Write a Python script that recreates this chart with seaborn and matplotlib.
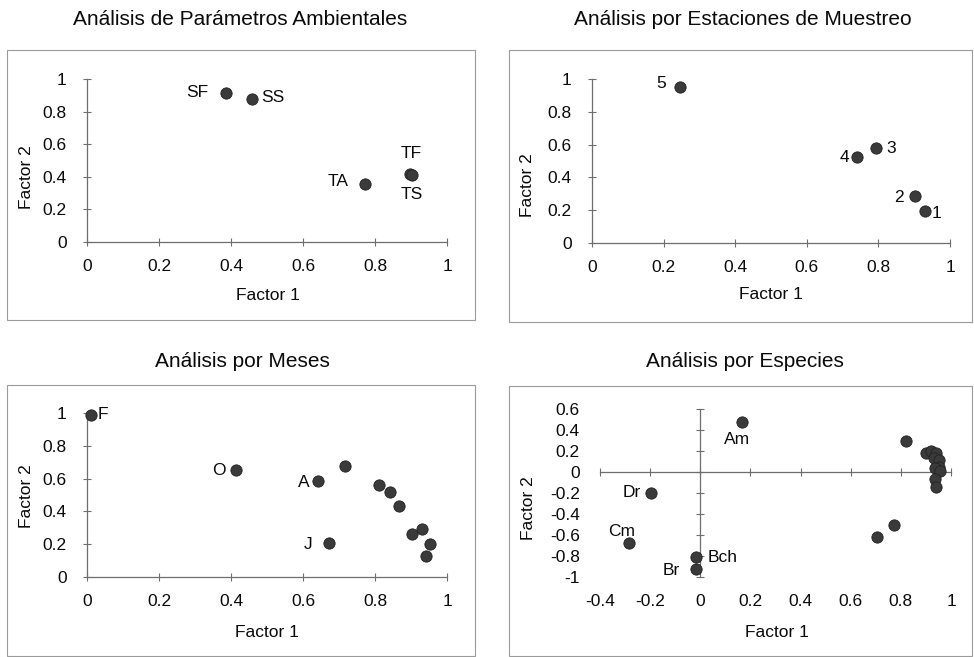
import matplotlib
matplotlib.use("Agg")
import matplotlib.pyplot as plt
import seaborn as sns
import pandas as pd
import numpy as np
from matplotlib.patches import Rectangle
from matplotlib.ticker import FuncFormatter, FixedLocator

# ---------------- data ----------------
titles = ["Análisis de Parámetros Ambientales", "Análisis por Estaciones de Muestreo",
          "Análisis por Meses", "Análisis por Especies"]
xlabel = "Factor 1"
ylabel = "Factor 2"

amb_labels = ["SF", "SS", "TA", "TF", "TS"]
amb_f1 = [0.386, 0.459, 0.773, 0.896, 0.904]
amb_f2 = [0.914, 0.879, 0.358, 0.420, 0.414]

est_labels = ["5", "4", "3", "2", "1"]
est_f1 = [0.247, 0.741, 0.793, 0.902, 0.930]
est_f2 = [0.949, 0.524, 0.579, 0.289, 0.197]

mes_labels = ["F", "O", "A", "J", "", "", "", "", "", "", "", ""]
mes_f1 = [0.012, 0.413, 0.643, 0.671, 0.717, 0.810, 0.842, 0.867, 0.903, 0.930, 0.952, 0.942]
mes_f2 = [0.990, 0.650, 0.587, 0.207, 0.679, 0.563, 0.518, 0.435, 0.264, 0.293, 0.201, 0.130]

esp_labels = ["Am", "Dr", "Cm", "Bch", "Br", "", "", "", "", "", "", "", "", "", "", "", "", ""]
esp_f1 = [0.165, -0.197, -0.283, -0.018, -0.018, 0.821, 0.773, 0.705,
          0.899, 0.920, 0.941, 0.931, 0.952, 0.952, 0.937, 0.956, 0.937, 0.941]
esp_f2 = [0.473, -0.197, -0.679, -0.807, -0.927, 0.295, -0.505, -0.622,
          0.184, 0.203, 0.178, 0.130, 0.114, 0.050, 0.035, 0.012, -0.070, -0.146]

ticks_01 = [0, 0.2, 0.4, 0.6, 0.8, 1]
esp_xticks = [-0.4, -0.2, 0, 0.2, 0.4, 0.6, 0.8, 1]
esp_yticks = [-1, -0.8, -0.6, -0.4, -0.2, 0, 0.2, 0.4, 0.6]

# ---------------- layout / style ----------------
sns.set_theme(style="white")
plt.rcParams["font.family"] = ["Liberation Sans", "DejaVu Sans"]
plt.rcParams["axes.unicode_minus"] = False

W, H = 974, 657
fig = plt.figure(figsize=(W / 100, H / 100), dpi=100)
fig.patch.set_facecolor("white")

def rect_px(l, t, r, b):
    return [l / W, 1 - b / H, (r - l) / W, (b - t) / H]

DOT = "#3a3a3a"
EDGE = "#222222"
AXC = "#6e6e6e"
TXT = "#0a0a0a"

# box rectangles (pixels)
boxes = [(7, 50, 475, 320), (509, 50, 972, 322), (7, 385, 475, 656), (509, 386, 972, 656)]
for (l, t, r, b) in boxes:
    fig.patches.append(Rectangle((l / W, 1 - b / H), (r - l) / W, (b - t) / H,
                                 transform=fig.transFigure, fill=False,
                                 edgecolor="#9a9a9a", linewidth=0.8))

title_pos = [(240, 25), (743, 25), (242, 367), (745, 367)]
for t, (x, y) in zip(titles, title_pos):
    fig.text(x / W, 1 - y / H, t, ha="center", va="baseline", fontsize=15, color=TXT)

fmt = FuncFormatter(lambda v, p: f"{round(v, 2):g}")

def make_panel(rect, xlim, ylim, xticks, yticks, x, y, labels, offsets,
               xlab_pos, ylab_pos, origin_spines=False):
    ax = fig.add_axes(rect)
    df = pd.DataFrame({"f1": x, "f2": y, "lab": labels})
    sns.scatterplot(data=df, x="f1", y="f2", ax=ax, s=66, color=DOT,
                    edgecolor=EDGE, linewidth=0.6, clip_on=False, zorder=3,
                    legend=False)
    ax.set_xlim(*xlim)
    ax.set_ylim(*ylim)
    ax.patch.set_visible(False)
    for s in ["top", "right"]:
        ax.spines[s].set_visible(False)
    for s in ["left", "bottom"]:
        ax.spines[s].set_color(AXC)
        ax.spines[s].set_linewidth(0.9)
    if origin_spines:
        ax.spines["left"].set_position(("data", 0))
        ax.spines["bottom"].set_position(("data", 0))
    ax.xaxis.set_major_locator(FixedLocator(xticks))
    ax.yaxis.set_major_locator(FixedLocator(yticks))
    ax.tick_params(axis="both", which="major", direction="inout", length=6,
                   width=0.8, color=AXC, labelleft=False, labelbottom=False,
                   left=True, bottom=True)
    ax.set_xlabel("")
    ax.set_ylabel("")
    for (xi, yi, lab), (dx, dy) in zip(zip(x, y, labels), offsets):
        if lab:
            ax.annotate(lab, (xi, yi), xytext=(dx, dy), textcoords="offset pixels",
                        ha="center", va="center", fontsize=12.5, color=TXT,
                        zorder=4)

    # overlay axes carrying tick labels at the left / bottom edges
    ax2 = fig.add_axes(rect, sharex=ax, sharey=ax)
    ax2.patch.set_visible(False)
    for s in ax2.spines.values():
        s.set_visible(False)
    ax2.xaxis.set_major_formatter(fmt)
    ax2.yaxis.set_major_formatter(fmt)
    ax2.tick_params(axis="x", length=0, pad=12.5, labelsize=12.5, labelcolor=TXT,
                    bottom=True)
    ax2.tick_params(axis="y", length=0, pad=14.5, labelsize=12.5, labelcolor=TXT,
                    left=True)
    ax2.set_xlabel(xlabel, fontsize=12.5, color=TXT, va="center")
    ax2.set_ylabel(ylabel, fontsize=12.5, color=TXT, va="center")
    ax2.xaxis.set_label_coords(*xlab_pos)
    ax2.yaxis.set_label_coords(*ylab_pos)
    return ax

# label offsets (pixels) – style only
amb_off = [(-29, 1), (21, 1), (-27, 2), (2, 20), (-1, -20)]
est_off = [(-19, 4), (-13, 0), (15, 0), (-16, -2), (12, -3)]
mes_off = [(12, 0), (-17, 0), (-15, -2), (-20, -1)] + [(0, 0)] * 8
esp_off = [(-5, -17), (-19, 0), (-8, 12), (27, -1), (-25, -1)] + [(0, 0)] * 13

make_panel(rect_px(87, 79, 447, 242), (0, 1), (0, 1), ticks_01, ticks_01,
           amb_f1, amb_f2, amb_labels, amb_off, (0.503, -0.33), (-0.167, 0.40))
make_panel(rect_px(592, 79, 950, 243), (0, 1), (0, 1), ticks_01, ticks_01,
           est_f1, est_f2, est_labels, est_off, (0.50, -0.315), (-0.179, 0.354))
make_panel(rect_px(87, 413, 447, 577), (0, 1), (0, 1), ticks_01, ticks_01,
           mes_f1, mes_f2, mes_labels, mes_off, (0.50, -0.34), (-0.167, 0.494))
make_panel(rect_px(600, 409, 951, 577), (-0.4, 1), (-1, 0.6), esp_xticks, esp_yticks,
           esp_f1, esp_f2, esp_labels, esp_off, (0.504, -0.33), (-0.205, 0.41),
           origin_spines=True)

fig.savefig("out.png", dpi=100, facecolor="white")
